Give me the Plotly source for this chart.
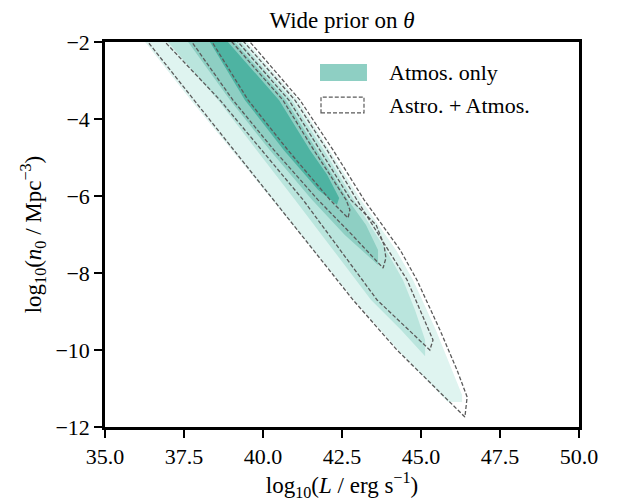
import plotly.graph_objects as go

# ---------------- data (log10 L, log10 n0) ----------------
# Atmos. only : filled credible regions (outermost -> innermost)
atmos_lvl4_logL = [35.70, 36.27, 37.72, 39.02, 40.28, 41.58, 42.88, 44.27, 45.85,
                   46.30, 46.30, 45.98, 45.47, 44.75, 44.21, 43.10, 42.12, 41.11, 39.49, 38.89]
atmos_lvl4_logn = [-1.43, -2.00, -3.51, -4.81, -6.10, -7.40, -8.70, -10.00, -11.35,
                   -11.35, -11.17, -10.52, -9.48, -8.18, -7.40, -6.10, -4.81, -3.51, -2.00, -1.43]

atmos_lvl3_logL = [36.42, 36.99, 38.58, 39.81, 41.01, 42.22, 43.42, 44.37, 45.13,
                   45.13, 44.81, 44.43, 43.89, 42.88, 41.93, 40.92, 39.30, 38.70]
atmos_lvl3_logn = [-1.43, -2.00, -3.51, -4.81, -6.10, -7.40, -8.70, -9.48, -10.16,
                   -9.74, -8.96, -8.18, -7.40, -6.10, -4.81, -3.51, -2.00, -1.43]

atmos_lvl2_logL = [37.06, 37.63, 38.96, 40.22, 41.55, 42.59, 43.64,
                   43.64, 43.26, 42.69, 41.71, 40.73, 39.11, 38.51]
atmos_lvl2_logn = [-1.43, -2.00, -3.51, -4.81, -6.10, -7.01, -7.79,
                   -7.40, -6.75, -6.10, -4.81, -3.51, -2.00, -1.43]

atmos_lvl1_logL = [37.75, 38.32, 39.43, 40.66, 41.74, 42.34,
                   42.41, 42.03, 41.49, 40.51, 38.89, 38.29]
atmos_lvl1_logn = [-1.43, -2.00, -3.51, -4.81, -5.84, -6.23,
                   -6.05, -5.45, -4.81, -3.51, -2.00, -1.43]

# Astro. + Atmos. : dashed credible contours (outermost -> innermost)
astro_lvl4_logL = [35.79, 36.36, 37.82, 39.08, 40.32, 41.58, 42.85, 44.24, 45.85, 46.39,
                   46.46, 46.14, 45.60, 44.87, 44.34, 43.20, 42.22, 41.17, 39.59, 38.99]
astro_lvl4_logn = [-1.43, -2.00, -3.51, -4.81, -6.10, -7.40, -8.70, -10.00, -11.30, -11.74,
                   -11.22, -10.52, -9.48, -8.18, -7.40, -6.10, -4.81, -3.51, -2.00, -1.43]

astro_lvl3_logL = [36.33, 36.90, 38.64, 39.97, 41.27, 42.44, 43.61, 45.28,
                   45.38, 44.97, 44.56, 43.96, 42.97, 42.03, 41.01, 39.40, 38.80]
astro_lvl3_logn = [-1.43, -2.00, -3.51, -4.81, -6.10, -7.40, -8.70, -10.00,
                   -9.74, -8.96, -8.18, -7.40, -6.10, -4.81, -3.51, -2.00, -1.43]

astro_lvl2_logL = [37.18, 37.75, 39.05, 40.35, 41.74, 42.82, 43.80,
                   43.89, 43.83, 43.58, 42.78, 41.80, 40.82, 39.21, 38.60]
astro_lvl2_logn = [-1.43, -2.00, -3.51, -4.81, -6.10, -7.01, -7.87,
                   -7.61, -7.27, -6.75, -6.10, -4.81, -3.51, -2.00, -1.43]

astro_lvl1_logL = [37.82, 38.39, 39.53, 40.79, 42.12, 42.69,
                   42.75, 42.63, 41.61, 40.63, 39.02, 38.42]
astro_lvl1_logn = [-1.43, -2.00, -3.51, -4.81, -6.10, -6.57,
                   -6.36, -6.10, -4.81, -3.51, -2.00, -1.43]

x_ticks = [35.0, 37.5, 40.0, 42.5, 45.0, 47.5, 50.0]
y_ticks = [-12, -10, -8, -6, -4, -2]

series_names = ["Atmos. only", "Astro. + Atmos."]

# ---------------- styling ----------------
fill_colors = ["#dff4f0", "#bae5dd", "#8ecfc3", "#4eb3a2"]
dash_color = "#5a5a5a"
FONT = "Liberation Serif"

fig = go.Figure()

fills = [(atmos_lvl4_logL, atmos_lvl4_logn), (atmos_lvl3_logL, atmos_lvl3_logn),
         (atmos_lvl2_logL, atmos_lvl2_logn), (atmos_lvl1_logL, atmos_lvl1_logn)]
for (xs, ys), col in zip(fills, fill_colors):
    fig.add_trace(go.Scatter(x=xs, y=ys, mode="lines", fill="toself", fillcolor=col,
                             line=dict(width=0, color=col), hoverinfo="skip",
                             showlegend=False))

lines = [(astro_lvl4_logL, astro_lvl4_logn), (astro_lvl3_logL, astro_lvl3_logn),
         (astro_lvl2_logL, astro_lvl2_logn), (astro_lvl1_logL, astro_lvl1_logn)]
for xs, ys in lines:
    fig.add_trace(go.Scatter(x=xs + xs[:1], y=ys + ys[:1], mode="lines",
                             line=dict(color=dash_color, width=1.3, dash="4px,2px"),
                             hoverinfo="skip", showlegend=False))

# manual legend (patch + dashed box + labels)
fig.add_shape(type="rect", xref="paper", yref="paper", x0=0.4536, x1=0.5527,
              y0=0.899, y1=0.943, fillcolor=fill_colors[2], line=dict(width=0))
fig.add_shape(type="rect", xref="paper", yref="paper", x0=0.4557, x1=0.5464,
              y0=0.816, y1=0.857, fillcolor="rgba(0,0,0,0)",
              line=dict(color=dash_color, width=1.2, dash="4px,2px"))
fig.add_annotation(xref="paper", yref="paper", x=0.595, y=0.921, xanchor="left",
                   yanchor="middle", text=series_names[0], showarrow=False,
                   font=dict(family=FONT, size=22, color="black"))
fig.add_annotation(xref="paper", yref="paper", x=0.595, y=0.836, xanchor="left",
                   yanchor="middle", text=series_names[1], showarrow=False,
                   font=dict(family=FONT, size=22, color="black"))

axis_common = dict(showline=True, linecolor="black", linewidth=2.5, mirror=True,
                   ticks="outside", ticklen=8, tickwidth=2, tickcolor="black",
                   showgrid=False, zeroline=False,
                   tickfont=dict(family=FONT, size=22, color="black"))

fig.update_layout(
    width=611, height=493,
    margin=dict(l=97, r=40, t=34, b=74),
    plot_bgcolor="white", paper_bgcolor="white",
    title=dict(text="Wide prior on <i>θ</i>", x=0.5, xref="paper", xanchor="center",
               y=0.976, yanchor="middle", yref="container",
               font=dict(family=FONT, size=23, color="black")),
    xaxis=dict(range=[35, 50], tickvals=x_ticks,
               ticktext=[f"{v:.1f}" for v in x_ticks],
               title=dict(text="log<sub>10</sub>(<i>L</i> / erg s<sup>−1</sup>)",
                          font=dict(family=FONT, size=23, color="black"), standoff=4),
               **axis_common),
    yaxis=dict(range=[-12, -2], tickvals=y_ticks,
               ticktext=[f"−{abs(v)}" for v in y_ticks],
               title=dict(text="log<sub>10</sub>(<i>n</i><sub>0</sub> / Mpc<sup>−3</sup>)",
                          font=dict(family=FONT, size=23, color="black"), standoff=8),
               **axis_common),
    showlegend=False,
)

fig.write_html("out.html")
